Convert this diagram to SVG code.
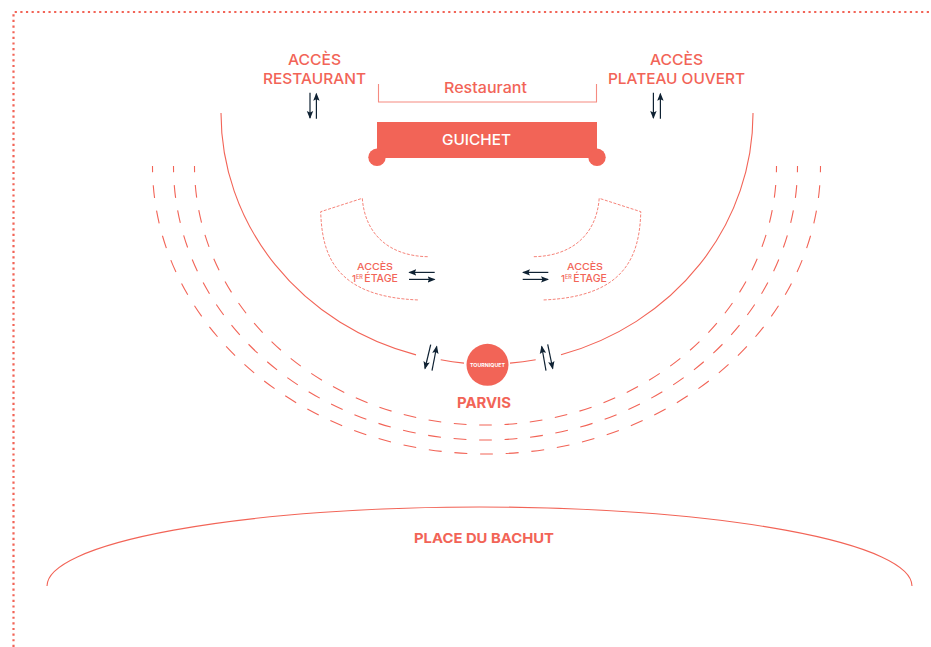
<svg xmlns="http://www.w3.org/2000/svg" width="931" height="647" viewBox="0 0 931 647">
<style>
text{font-family:Inter,"Liberation Sans",Arial,sans-serif;fill:#f26457;font-weight:500}
.b{font-weight:700}
.w{fill:#fff}
.l{fill:none;stroke:#f26457;stroke-width:1.100}
.d{fill:none;stroke:#f26457;stroke-width:1.100;stroke-dasharray:.5 .5;stroke-dashoffset:.25}
.s{fill:none;stroke:#f26457;stroke-width:1;stroke-dasharray:3 1.5;opacity:.8}
.f{fill:none;stroke:#f26457;stroke-width:2.200;stroke-dasharray:2.200 3.430}
.a{fill:none;stroke:#0f2233;stroke-width:1.200;marker-end:url(#h)}
</style>
<defs><marker id="h" markerUnits="userSpaceOnUse" markerWidth="10" markerHeight="10" refX="7" refY="5" orient="auto"><path d="M0 1.800L8 5L0 8.200L1.500 5Z" fill="#0f2233"/></marker></defs>
<rect width="931" height="647" fill="#fff"/>
<g id="connectors">
<path class="f" d="M13.500 647V12H931"/>
<path class="l" d="M221 113A266 251 0 0 0 416 354.900"/>
<path class="l" d="M440.700 359.800A266 251 0 0 0 464 363.100"/>
<path class="l" d="M510 363.100A266 251 0 0 0 535.700 359.800"/>
<path class="l" d="M561 354.800A266 251 0 0 0 753 113"/>
<path class="d" pathLength="38" d="M152.500 166A334 288 0 0 0 820.500 166"/>
<path class="d" pathLength="36" d="M173.500 166A312 274 0 0 0 797.500 166"/>
<path class="d" pathLength="34" d="M194.500 166A291 259 0 0 0 776.500 166"/>
<path class="l" d="M47 586A432.500 79 0 0 1 912 586"/>
<path class="l" d="M378.500 84V102H596.500V84" opacity=".75"/>
<path class="s" d="M427.700 256.700C390 256 365 235 362.300 198.300L320.700 211.700C322 255 335 297 419.300 300"/>
<path class="s" d="M533.800 256.700C571.500 256 596.500 235 599.200 198.300L640.800 211.700C639.500 255 626.500 297 542.200 300"/>
<path class="a" d="M310 92.700V118"/><path class="a" d="M316.400 118.700V93.700"/>
<path class="a" d="M653.400 92.700V118"/><path class="a" d="M660.400 118.700V93.700"/>
<path class="a" d="M434.700 272.400H409.300"/><path class="a" d="M409 279.400H434.500"/>
<path class="a" d="M548.300 272.400H523"/><path class="a" d="M522.700 279.400H548"/>
<path class="a" d="M430.700 344.700L425 368.500"/><path class="a" d="M432 370.700L436.700 346.500"/>
<path class="a" d="M546 370.700L541.700 346.500"/><path class="a" d="M547.700 344.300L552.700 368.500"/>
</g>
<g id="acces-restaurant"><text x="288" y="65" font-size="15" textLength="53" lengthAdjust="spacingAndGlyphs">ACCÈS</text><text x="263" y="84" font-size="15" textLength="103" lengthAdjust="spacingAndGlyphs">RESTAURANT</text></g>
<g id="acces-plateau"><text x="650" y="65" font-size="15" textLength="53" lengthAdjust="spacingAndGlyphs">ACCÈS</text><text x="608" y="84" font-size="15" textLength="137" lengthAdjust="spacingAndGlyphs">PLATEAU OUVERT</text></g>
<g id="restaurant"><text x="444" y="93" font-size="15" textLength="83" lengthAdjust="spacingAndGlyphs">Restaurant</text></g>
<g id="guichet"><rect x="377" y="122" width="220" height="36" fill="#f26457"/><circle cx="377" cy="157.300" r="8.700" fill="#f26457"/><circle cx="597" cy="157.300" r="8.700" fill="#f26457"/><text class="w" x="442" y="145" font-size="15" textLength="69" lengthAdjust="spacingAndGlyphs">GUICHET</text></g>
<g id="acces-etage-gauche"><text x="357" y="269.500" font-size="9.500" textLength="36" lengthAdjust="spacingAndGlyphs">ACCÈS</text><text x="352" y="281.500" font-size="9.500">1<tspan font-size="5.500" dy="-3">ER</tspan><tspan font-size="10.500" dy="3" dx="1.500">ÉTAGE</tspan></text></g>
<g id="acces-etage-droite"><text x="567" y="269.500" font-size="9.500" textLength="36" lengthAdjust="spacingAndGlyphs">ACCÈS</text><text x="561" y="281.500" font-size="9.500">1<tspan font-size="5.500" dy="-3">ER</tspan><tspan font-size="10.500" dy="3" dx="1.500">ÉTAGE</tspan></text></g>
<g id="tourniquet"><circle cx="487.500" cy="364.800" r="21" fill="#f26457"/><text class="w b" x="470" y="366.700" font-size="5" textLength="35" lengthAdjust="spacingAndGlyphs">TOURNIQUET</text></g>
<g id="parvis"><text class="b" x="457" y="408" font-size="14" textLength="54" lengthAdjust="spacingAndGlyphs">PARVIS</text></g>
<g id="place"><text class="b" x="414" y="543" font-size="13.500" textLength="140" lengthAdjust="spacingAndGlyphs">PLACE DU BACHUT</text></g>
</svg>
